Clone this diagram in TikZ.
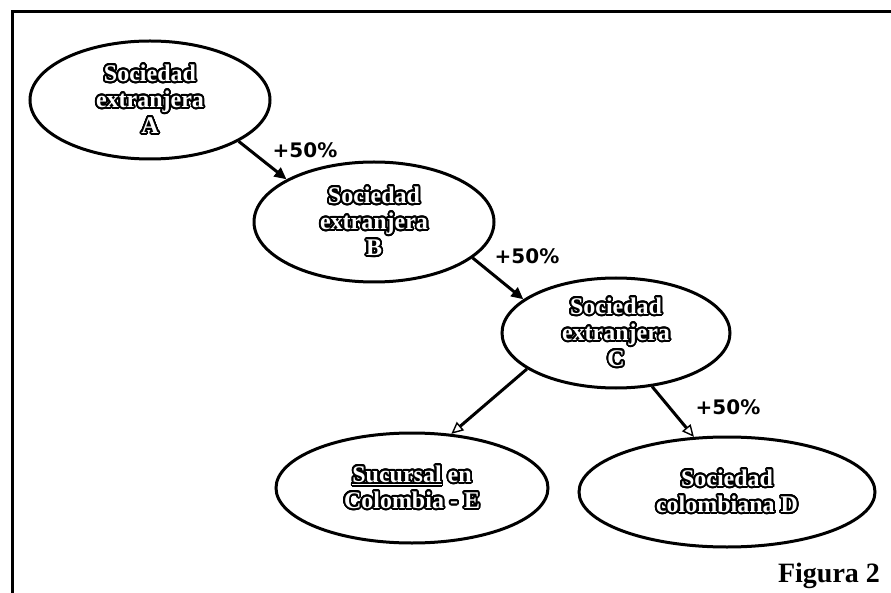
\documentclass[tikz,border=0pt]{standalone}
\usepackage{fontspec}
\setmainfont{Liberation Serif}
\newfontfamily\lblfont{DejaVu Sans}
\usepackage{contour}
\contourlength{1.8pt}
\contournumber{32}
\usetikzlibrary{shapes.geometric,arrows.meta}
\newcommand{\ol}[1]{\contour{black}{\textcolor{white}{#1}}}
\tikzset{
  ent/.style={ellipse,draw=black,line width=3pt,inner sep=0pt,font=\fontsize{24}{26}\selectfont\bfseries,align=center},
  conn/.style={line width=3pt,-{Triangle[length=12pt,width=11pt]}},
  connopen/.style={line width=3pt,-{Triangle[open,length=12pt,width=11pt,line width=1.4pt]}},
  pct/.style={font=\lblfont\bfseries\fontsize{20}{22}\selectfont,inner sep=0pt}
}
\begin{document}
\begin{tikzpicture}[x=1pt,y=-1pt]
\useasboundingbox (0,0) rectangle (891,593);
\draw[line width=3pt] (12,593) -- (12,12) -- (891,12);
\node[ent,minimum width=240pt,minimum height=118pt] (A) at (150,100) {\ol{Sociedad}\\\ol{extranjera}\\\ol{A}};
\node[ent,minimum width=240pt,minimum height=120pt] (B) at (374,222) {\ol{Sociedad}\\\ol{extranjera}\\\ol{B}};
\node[ent,minimum width=228pt,minimum height=110pt] (C) at (616,333) {\ol{Sociedad}\\\ol{extranjera}\\\ol{C}};
\node[ent,minimum width=272pt,minimum height=110pt] (E) at (412,488) {\ol{\underline{Sucursal}} \ol{en}\\\ol{Colombia - E}};
\node[ent,minimum width=296pt,minimum height=110pt] (D) at (727,492) {\ol{Sociedad}\\\ol{colombiana D}};
\draw[conn] (A.-25) -- (B.154);
\draw[conn] (B.-20) -- (C.160);
\draw[connopen] (C.-158) -- (E.54);
\draw[connopen] (C.-56) -- (D.121);
\node[pct] (p1) at (305,150) {+50\%};
\node[pct] (p2) at (527,256) {+50\%};
\node[pct] (p3) at (728,407) {+50\%};
\node[font=\fontsize{28}{30}\selectfont\bfseries,inner sep=0pt] (fig) at (829,576) {Figura 2};
\end{tikzpicture}
\end{document}
